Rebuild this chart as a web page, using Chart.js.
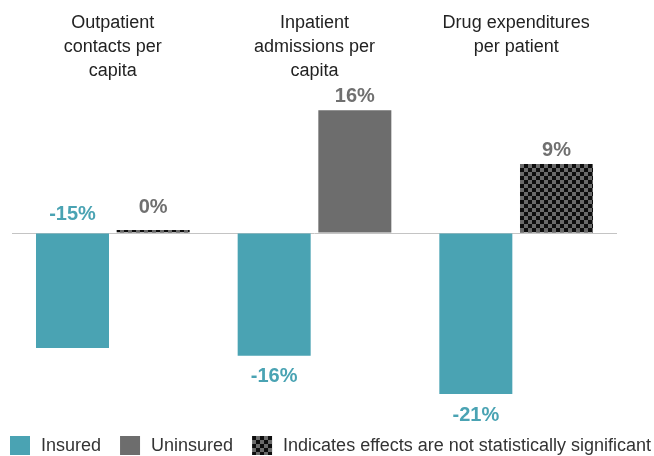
<!DOCTYPE html>
<html>
<head>
<meta charset="utf-8">
<script src="https://cdn.jsdelivr.net/npm/chart.js@4"></script>
<style>
  html, body { margin: 0; padding: 0; background: #fff; overflow: hidden; }
</style>
</head>
<body>
<canvas id="chart" width="654" height="456"></canvas>
<script>
const categories = [
  ['Outpatient', 'contacts per', 'capita'],
  ['Inpatient', 'admissions per', 'capita'],
  ['Drug expenditures', 'per patient']
];
const seriesNames = ['Insured', 'Uninsured'];
const insured = [-15, -16, -21];
const uninsured = [0.4, 16, 9];
const uninsuredSignificant = [false, true, false];
const legendLabels = ['Insured', 'Uninsured', 'Indicates effects are not statistically significant'];
const yMin = -24;
const yMax = 18;

const TEAL = '#4aa3b3';
const GRAY = '#6d6d6d';
const FONT = '"Liberation Sans", Arial, Helvetica, sans-serif';

const canvas = document.getElementById('chart');
const ctx = canvas.getContext('2d');

// checkered fill used for "not significant"
function makeChecker() {
  const c = document.createElement('canvas');
  c.width = 8; c.height = 8;
  const g = c.getContext('2d');
  g.fillStyle = '#6a6a6a';
  g.fillRect(0, 0, 8, 8);
  g.fillStyle = '#0d0d0d';
  g.fillRect(0, 0, 4, 4);
  g.fillRect(4, 4, 4, 4);
  return ctx.createPattern(c, 'repeat');
}
const checker = makeChecker();

const labelColors = [TEAL, '#707070'];

const valueLabels = {
  id: 'valueLabels',
  afterDatasetsDraw(chart) {
    const c = chart.ctx;
    c.save();
    c.font = 'bold 20px ' + FONT;
    c.textAlign = 'center';
    c.textBaseline = 'middle';
    chart.data.datasets.forEach((ds, di) => {
      chart.getDatasetMeta(di).data.forEach((el, i) => {
        const v = ds.data[i];
        let y;
        if (Math.abs(v) < 1) y = el.base - 25;
        else if (v > 0) y = el.y - 14;
        else if (di === 0 && i === 0) y = el.base - 19;
        else y = el.y + 21;
        c.fillStyle = labelColors[di];
        c.fillText(Math.round(v) + '%', el.x, y);
      });
    });
    c.restore();
  }
};

const groupTitles = {
  id: 'groupTitles',
  afterDraw(chart) {
    const c = chart.ctx;
    const xs = chart.scales.x;
    c.save();
    c.font = '18px ' + FONT;
    c.fillStyle = '#222';
    c.textAlign = 'center';
    c.textBaseline = 'middle';
    categories.forEach((lines, i) => {
      const x = xs.getPixelForValue(i);
      lines.forEach((t, j) => c.fillText(t, x, 23 + j * 24));
    });
    c.restore();
  }
};

const bottomLegend = {
  id: 'bottomLegend',
  afterDraw(chart) {
    const c = chart.ctx;
    const fills = [TEAL, GRAY, checker];
    c.save();
    c.font = '18px ' + FONT;
    c.textBaseline = 'middle';
    let x = 10;
    legendLabels.forEach((t, i) => {
      c.fillStyle = fills[i];
      c.fillRect(x, 436, 20, 19);
      c.fillStyle = '#333';
      c.fillText(t, x + 31, 446);
      x += 31 + c.measureText(t).width + 19;
    });
    c.restore();
  }
};

new Chart(ctx, {
  type: 'bar',
  data: {
    labels: categories,
    datasets: [
      {
        label: seriesNames[0],
        data: insured,
        backgroundColor: TEAL,
        categoryPercentage: 0.8,
        barPercentage: 0.905
      },
      {
        label: seriesNames[1],
        data: uninsured,
        backgroundColor: uninsuredSignificant.map(s => s ? GRAY : checker),
        categoryPercentage: 0.8,
        barPercentage: 0.905
      }
    ]
  },
  options: {
    responsive: false,
    animation: false,
    layout: { padding: { left: 12, right: 37, top: 95, bottom: 39 } },
    plugins: {
      legend: { display: false },
      tooltip: { enabled: false }
    },
    scales: {
      x: { display: false },
      y: {
        min: yMin,
        max: yMax,
        ticks: { display: false, stepSize: 6 },
        border: { display: false },
        grid: {
          drawTicks: false,
          lineWidth: 1,
          color: c => c.tick && c.tick.value === 0 ? '#c4c4c4' : 'rgba(0,0,0,0)'
        },
        afterFit: s => { s.width = 0; }
      }
    }
  },
  plugins: [valueLabels, groupTitles, bottomLegend]
});
</script>
</body>
</html>
